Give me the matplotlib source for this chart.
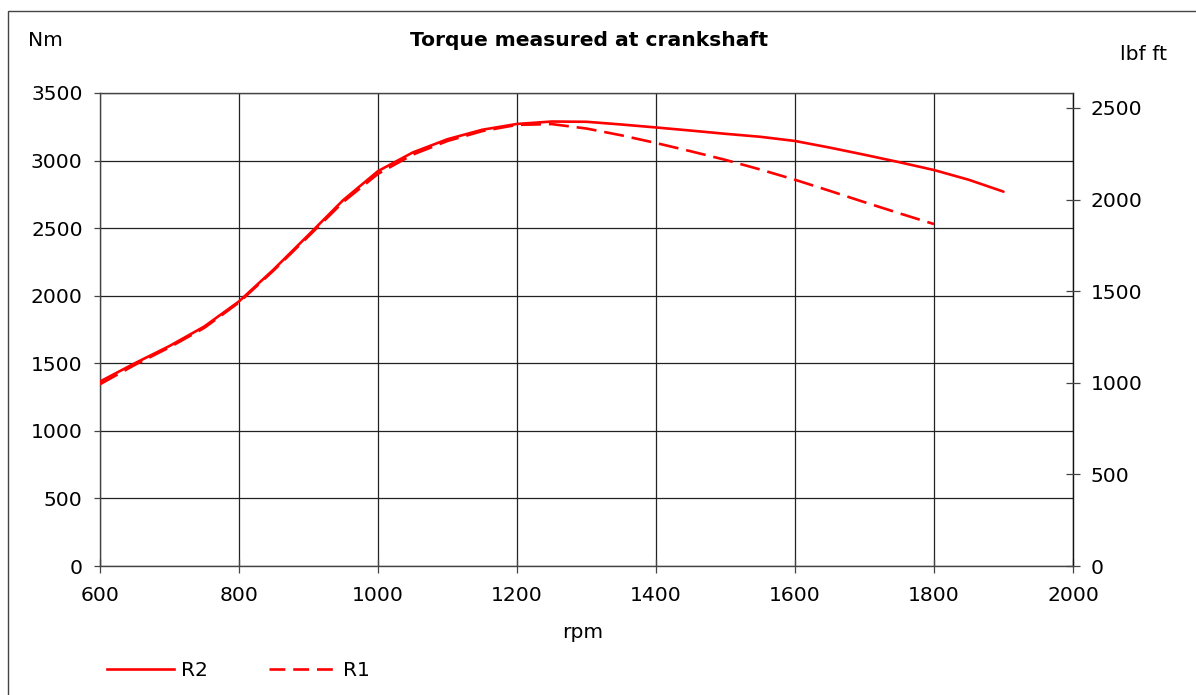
import matplotlib
matplotlib.use("Agg")
import matplotlib.pyplot as plt
from matplotlib.patches import Rectangle
from matplotlib.lines import Line2D

plt.rcParams['font.family'] = ['DejaVu Sans']

rpm_r2 = [600, 650, 700, 750, 800, 850, 900, 950, 1000, 1050, 1100, 1150, 1200, 1250, 1300,
          1350, 1400, 1450, 1500, 1550, 1600, 1650, 1700, 1750, 1800, 1850, 1900]
torque_r2 = [1365, 1500, 1628, 1772, 1958, 2195, 2450, 2708, 2922, 3060, 3158, 3228, 3271, 3289, 3287,
             3267, 3245, 3222, 3198, 3176, 3145, 3096, 3043, 2988, 2930, 2858, 2770]
rpm_r1 = [600, 650, 700, 750, 800, 850, 900, 950, 1000, 1050, 1100, 1150, 1200, 1250, 1300,
          1350, 1400, 1450, 1500, 1550, 1600, 1650, 1700, 1750, 1800]
torque_r1 = [1345, 1488, 1618, 1762, 1950, 2188, 2440, 2694, 2902, 3044, 3145, 3218, 3264, 3270, 3237,
             3187, 3130, 3069, 3005, 2934, 2858, 2776, 2692, 2610, 2530]
x_ticks = [600, 800, 1000, 1200, 1400, 1600, 1800, 2000]
y_ticks = [0, 500, 1000, 1500, 2000, 2500, 3000, 3500]
y2_ticks = [0, 500, 1000, 1500, 2000, 2500]
NM_PER_LBFFT = 1.35582

W, H = 1196, 695
fig = plt.figure(figsize=(W / 100, H / 100), dpi=100)
ax = fig.add_axes([100 / W, 1 - 566 / H, (1073 - 100) / W, (566 - 93) / H])

fs = 14.6
red = '#ff0000'
ax.plot(rpm_r2, torque_r2, color=red, lw=1.9, solid_capstyle='round', solid_joinstyle='round', zorder=3)
ax.plot(rpm_r1, torque_r1, color=red, lw=1.9, dashes=(7.6, 3.0), dash_joinstyle='round', zorder=3)

ax.set_xlim(600, 2000)
ax.set_ylim(0, 3500)
ax.set_xticks(x_ticks)
ax.set_yticks(y_ticks)
ax.grid(True, color='#222222', lw=0.9)
ax.tick_params(axis='x', direction='inout', length=9.4, width=0.9, color='#444444', labelsize=fs, pad=9.5)
ax.tick_params(axis='y', direction='out', length=4, width=0.9, color='#444444', labelsize=fs, pad=8.5)
for s in ['left', 'bottom', 'top', 'right']:
    ax.spines[s].set_color('#444444')
    ax.spines[s].set_linewidth(1.0)
ax.spines['right'].set_color('#111111')

ax2 = ax.twinx()
ax2.set_ylim(0, 3500 / NM_PER_LBFFT)
ax2.set_yticks(y2_ticks)
ax2.tick_params(axis='y', direction='inout', length=9.5, width=0.9, color='#444444', labelsize=fs, pad=8)
for s in ['left', 'bottom', 'top', 'right']:
    ax2.spines[s].set_visible(False)

fig.text(589 / W, 1 - 40 / H, 'Torque measured at crankshaft', ha='center', va='center',
         fontsize=fs, fontweight='bold')
fig.text(45.5 / W, 1 - 40 / H, 'Nm', ha='center', va='center', fontsize=fs)
fig.text(1144 / W, 1 - 55 / H, 'lbf ft', ha='center', va='center', fontsize=fs)
fig.text(583 / W, 1 - 632 / H, 'rpm', ha='center', va='center', fontsize=fs)

handles = [Line2D([], [], color=red, lw=1.9),
           Line2D([], [], color=red, lw=1.9, dashes=(6, 3))]
fig.legend(handles, ['R2', 'R1'], loc='center left', bbox_to_anchor=(107 / W, 1 - 671 / H),
           ncol=2, frameon=False, fontsize=fs, handlelength=3.3, handletextpad=0.35,
           columnspacing=3.0, borderpad=0, borderaxespad=0)

fig.patches.append(Rectangle((8 / W, -0.1), 1.2, 1 - 11 / H + 0.1, transform=fig.transFigure,
                             fill=False, edgecolor='#444444', lw=1.0))

fig.savefig('out.png', dpi=100)
